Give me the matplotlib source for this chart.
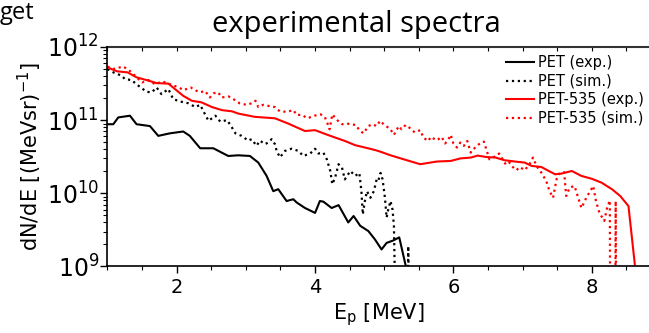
import matplotlib
matplotlib.use("Agg")
import matplotlib.pyplot as plt
from matplotlib.ticker import MultipleLocator, LogLocator, NullFormatter

# PET, measured
pet_exp_e = [1.0, 1.084, 1.156, 1.325, 1.42, 1.614, 1.734, 1.90, 2.095, 2.19, 2.34, 2.53,
             2.745, 2.89, 3.059, 3.18, 3.30, 3.396, 3.468, 3.589, 3.686, 3.734, 3.855,
             4.0, 4.07, 4.12, 4.24, 4.34, 4.48, 4.557, 4.653, 4.77, 4.865, 4.961, 5.034,
             5.13, 5.217, 5.313, 5.36]
pet_exp = [8.8e10, 8.8e10, 1.09e11, 1.15e11, 8.8e10, 8.3e10, 6.1e10, 6.6e10, 7.0e10, 6.1e10,
           4.13e10, 4.13e10, 3.24e10, 3.31e10, 3.24e10, 2.63e10, 1.73e10, 1.07e10, 1.14e10,
           7.85e9, 8.3e9, 7.5e9, 6.3e9, 5.4e9, 7.85e9, 7.7e9, 6.3e9, 6.9e9, 4.0e9, 4.9e9,
           3.6e9, 3.05e9, 2.35e9, 1.71e9, 2.1e9, 2.27e9, 2.5e9, 1.0e9, 5e8]

# PET, simulated
pet_sim_e = [1.0, 1.084, 1.205, 1.253, 1.35, 1.42, 1.565, 1.64, 1.71, 1.78, 1.88, 1.95,
             2.05, 2.17, 2.27, 2.34, 2.41, 2.46, 2.56, 2.63, 2.73, 2.80, 2.85, 2.938,
             3.035, 3.083, 3.155, 3.204, 3.276, 3.324, 3.372, 3.42, 3.445, 3.493, 3.565,
             3.66, 3.76, 3.83, 3.93, 4.0, 4.05, 4.12, 4.17, 4.22, 4.25, 4.29, 4.34, 4.39,
             4.43, 4.51, 4.58, 4.64, 4.67, 4.69, 4.72, 4.75, 4.80, 4.85, 4.89, 4.913,
             4.947, 4.976, 5.01, 5.034, 5.058, 5.09, 5.12, 5.14, 5.16, 5.34, 5.347, 5.36]
pet_sim = [5.0e11, 4.5e11, 4.05e11, 3.63e11, 3.53e11, 3.09e11, 2.44e11, 2.4e11, 2.8e11,
           2.27e11, 2.66e11, 1.94e11, 1.80e11, 1.70e11, 1.51e11, 1.62e11, 1.20e11, 9.8e10,
           1.15e11, 9.55e10, 1.0e11, 7.9e10, 6.6e10, 6.1e10, 5.25e10, 5.5e10, 4.47e10,
           5.25e10, 4.7e10, 4.95e10, 5.5e10, 4.7e10, 3.8e10, 3.1e10, 3.8e10, 4.07e10,
           3.8e10, 3.24e10, 3.5e10, 4.07e10, 3.5e10, 3.6e10, 2.92e10, 2.02e10, 1.33e10,
           1.64e10, 2.5e10, 2.24e10, 1.55e10, 2.02e10, 1.73e10, 1.9e10, 1.07e10, 5.15e9,
           7.85e9, 1.07e10, 8.7e9, 1.07e10, 1.55e10, 1.48e10, 1.9e10, 1.55e10, 8.7e9,
           4.65e9, 6.0e9, 7.85e9, 6.0e9, 3.6e9, 3e8, 3e8, 1.9e9, 3e8]

# PET-535, measured
pet535_exp_e = [1.0, 1.14, 1.29, 1.42, 1.565, 1.71, 1.88, 1.976, 2.095, 2.22, 2.36, 2.51,
                2.655, 2.80, 2.89, 3.13, 3.42, 3.61, 3.855, 4.0, 4.19, 4.43, 4.58, 4.72,
                4.87, 4.94, 5.09, 5.28, 5.52, 5.76, 5.96, 6.10, 6.25, 6.35, 6.47, 6.61,
                6.74, 6.89, 7.03, 7.13, 7.27, 7.47, 7.56, 7.71, 7.85, 8.0, 8.14, 8.29,
                8.41, 8.53, 8.63, 8.65]
pet535_exp = [5.25e11, 4.65e11, 4.5e11, 3.85e11, 3.53e11, 3.21e11, 3.16e11, 2.66e11,
              2.15e11, 1.84e11, 1.75e11, 1.51e11, 1.37e11, 1.32e11, 1.23e11, 1.11e11,
              1.06e11, 9.0e10, 7.1e10, 7.3e10, 6.25e10, 5.2e10, 4.55e10, 4.23e10, 3.9e10,
              3.72e10, 3.31e10, 2.92e10, 2.5e10, 2.72e10, 2.77e10, 3.0e10, 3.08e10,
              3.28e10, 3.14e10, 3.08e10, 2.83e10, 2.72e10, 2.63e10, 2.37e10, 2.29e10,
              1.82e10, 1.86e10, 2.02e10, 1.73e10, 1.58e10, 1.4e10, 1.14e10, 9.2e9, 6.7e9,
              9e8, 3e8]

# PET-535, simulated
pet535_sim_e = [1.0, 1.08, 1.23, 1.33, 1.50, 1.59, 1.69, 1.79, 1.88, 2.03, 2.10, 2.20,
                2.29, 2.34, 2.41, 2.48, 2.53, 2.60, 2.65, 2.75, 2.82, 2.91, 3.01, 3.08,
                3.14, 3.18, 3.25, 3.32, 3.42, 3.49, 3.59, 3.69, 3.73, 3.81, 3.89, 3.99,
                4.08, 4.14, 4.18, 4.21, 4.25, 4.31, 4.39, 4.46, 4.51, 4.59, 4.64, 4.70,
                4.77, 4.83, 4.89, 4.94, 4.99, 5.09, 5.14, 5.21, 5.25, 5.31, 5.37, 5.44,
                5.52, 5.57, 5.64, 5.67, 5.76, 5.83, 5.88, 5.93, 5.96, 6.0, 6.05, 6.10,
                6.15, 6.20, 6.25, 6.32, 6.37, 6.44, 6.49, 6.52, 6.57, 6.66, 6.71, 6.76,
                6.81, 6.84, 6.91, 6.96, 7.03, 7.10, 7.15, 7.20, 7.27, 7.34, 7.39, 7.44,
                7.49, 7.54, 7.60, 7.63, 7.68, 7.75, 7.85, 7.92, 8.02, 8.06, 8.11, 8.18,
                8.22, 8.26, 8.265, 8.34, 8.345, 8.35]
pet535_sim = [5.4e11, 5.0e11, 5.4e11, 4.65e11, 3.28e11, 3.53e11, 3.09e11, 3.39e11, 3.16e11,
              2.8e11, 2.57e11, 2.8e11, 2.51e11, 2.4e11, 2.51e11, 2.04e11, 2.32e11, 2.4e11,
              2.04e11, 2.11e11, 1.94e11, 1.70e11, 1.62e11, 1.70e11, 1.84e11, 1.51e11,
              1.62e11, 1.57e11, 1.51e11, 1.32e11, 1.30e11, 1.37e11, 1.18e11, 1.18e11,
              1.06e11, 1.15e11, 1.20e11, 1.11e11, 9.0e10, 7.5e10, 1.20e11, 1.02e11, 8.8e10,
              9.0e10, 8.8e10, 8.6e10, 7.3e10, 6.6e10, 8.3e10, 8.8e10, 8.3e10, 9.8e10, 8.8e10,
              7.5e10, 6.3e10, 8.3e10, 7.5e10, 8.6e10, 7.8e10, 6.8e10, 7.3e10, 5.7e10, 5.2e10,
              5.9e10, 5.3e10, 5.9e10, 4.8e10, 5.5e10, 6.3e10, 4.8e10, 4.23e10, 4.95e10,
              4.45e10, 5.2e10, 3.6e10, 4.3e10, 4.7e10, 5.1e10, 3.6e10, 2.92e10, 3.08e10,
              3.5e10, 2.92e10, 2.45e10, 2.63e10, 2.37e10, 2.07e10, 2.29e10, 2.07e10, 2.5e10,
              3.08e10, 2.37e10, 1.92e10, 1.48e10, 1.07e10, 8.7e9, 1.55e10, 1.92e10, 1.94e10,
              9.2e9, 1.20e10, 1.26e10, 6.3e9, 8.7e9, 1.26e10, 7.85e9, 5.4e9, 4.2e9, 6.3e9,
              8.0e9, 3e8, 3e8, 7.85e9, 3e8]

plt.rcParams['font.family'] = 'DejaVu Sans'

fig = plt.figure(figsize=(6.49, 3.33), dpi=100)
ax = fig.add_axes([0.1656, 0.1997, 0.8529, 0.6592])

ax.plot(pet_exp_e, pet_exp, color='black', lw=1.5, label='PET (exp.)')
ax.plot(pet_sim_e, pet_sim, color='black', lw=1.6, ls=':', label='PET (sim.)')
ax.plot(pet535_exp_e, pet535_exp, color='red', lw=1.5, label='PET-535 (exp.)')
ax.plot(pet535_sim_e, pet535_sim, color='red', lw=1.6, ls=':', label='PET-535 (sim.)')

ax.set_yscale('log')
ax.set_xlim(1, 9)
ax.set_ylim(1e9, 1e12)

ax.xaxis.set_major_locator(MultipleLocator(2))
ax.xaxis.set_minor_locator(MultipleLocator(0.5))
ax.yaxis.set_major_locator(LogLocator(base=10))
ax.yaxis.set_minor_locator(LogLocator(base=10, subs=range(2, 10)))
ax.yaxis.set_minor_formatter(NullFormatter())

ax.tick_params(axis='y', which='major', direction='out', length=5, width=1, pad=1, labelsize=17)
ax.tick_params(axis='y', which='minor', direction='out', length=3, width=0.8)
ax.tick_params(axis='x', which='major', direction='out', length=5, width=1, pad=3, labelsize=14)
ax.tick_params(axis='x', which='minor', direction='out', length=3, width=0.8)

top = ax.secondary_xaxis('top')
top.xaxis.set_major_locator(MultipleLocator(0.5))
top.tick_params(direction='in', length=3, width=0.8, labeltop=False)

for side in ['left', 'bottom']:
    ax.spines[side].set_linewidth(1.2)
ax.spines['top'].set_visible(False)
top.spines['top'].set_linewidth(1.5)
top.spines['top'].set_color('#333333')

ax.set_ylabel('dN/dE [(MeVsr)$^{\\mathregular{-1}}$]', fontsize=15)
ax.yaxis.set_label_coords(-0.115, 0.5)
ax.set_xlabel('E$_\\mathregular{p}$ [MeV]', fontsize=15)
ax.xaxis.set_label_coords(0.49, -0.16)

fig.text(356 / 649, 1 - 31.7 / 333, 'experimental spectra', family='Open Sans',
         fontsize=21, ha='center', va='baseline')
fig.text(0.0, 1 - 19 / 333, 'get', family='Open Sans', fontsize=17, ha='left', va='baseline')

ax.legend(loc='upper left', bbox_to_anchor=(506 / 649, 1 - 55 / 333),
          bbox_transform=fig.transFigure, frameon=False, fontsize=10.5,
          handlelength=1.9, handletextpad=0.3, labelspacing=0.25, borderpad=0,
          borderaxespad=0)

fig.savefig('out.png', dpi=100)
